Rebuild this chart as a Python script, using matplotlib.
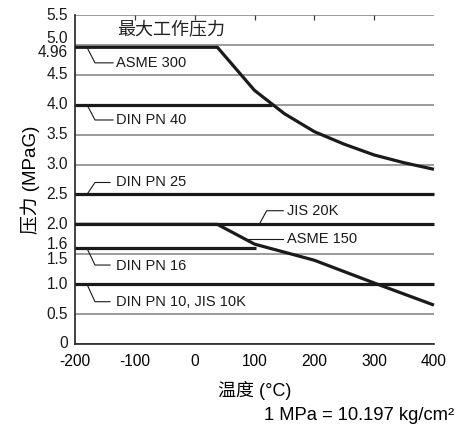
import matplotlib
matplotlib.use("Agg")
import matplotlib.pyplot as plt
from matplotlib.patches import Rectangle

plt.rcParams['font.family'] = ['Liberation Sans', 'Noto Sans CJK SC', 'DejaVu Sans']

# rating curves (temperature degC, pressure MPaG)
asme300_t = [-200, 38, 100, 150, 200, 250, 300, 350, 400]
asme300_p = [4.96, 4.96, 4.24, 3.85, 3.55, 3.34, 3.16, 3.03, 2.92]
asme150_t = [-200, 38, 100, 200, 300, 400]
asme150_p = [2.0, 2.0, 1.67, 1.40, 1.02, 0.65]
pn40_t = [-200, 129]
pn40_p = [4.0, 4.0]
pn25_t = [-200, 400]
pn25_p = [2.5, 2.5]
jis20k_t = [-200, 400]
jis20k_p = [2.0, 2.0]
pn16_t = [-200, 103]
pn16_p = [1.6, 1.6]
pn10_t = [-200, 400]
pn10_p = [1.0, 1.0]

xticks = [-200, -100, 0, 100, 200, 300, 400]
yticks = [0, 0.5, 1.0, 1.5, 2.0, 2.5, 3.0, 3.5, 4.0, 4.5, 5.0, 5.5]
# (value, text, vertical shift in px)
ylabels = [(0, "0", 0), (0.5, "0.5", 0), (1.0, "1.0", 0), (1.5, "1.5", -5),
           (1.6, "1.6", 3.5), (2.0, "2.0", 0), (2.5, "2.5", 0), (3.0, "3.0", 0),
           (3.5, "3.5", 0), (4.0, "4.0", 0), (4.5, "4.5", 0), (4.96, "4.96", -5.5),
           (5.0, "5.0", 6.5), (5.5, "5.5", 0)]

# label callouts: leader polyline (t, p) and text anchor
callouts = [
    ("ASME 300", [-180, -166.6, -136.5], [4.96, 4.70, 4.70], (-131.5, 4.70)),
    ("DIN PN 40", [-180, -166.6, -136.5], [4.0, 3.745, 3.745], (-131.5, 3.745)),
    ("DIN PN 25", [-180, -166.6, -141.5], [2.5, 2.70, 2.70], (-131.5, 2.70)),
    ("DIN PN 16", [-180, -166.6, -141.5], [1.6, 1.32, 1.32], (-131.5, 1.31)),
    ("DIN PN 10, JIS 10K", [-180, -166.6, -141.5], [1.0, 0.707, 0.707], (-131.5, 0.707)),
    ("JIS 20K", [107.9, 120.4, 148.1], [2.0, 2.228, 2.228], (154.8, 2.228)),
    ("ASME 150", [84.1, 148.1], [1.75, 1.75], (154.8, 1.75)),
]

fig = plt.figure(figsize=(4.67, 4.28), dpi=100)
ax = fig.add_axes([75 / 467, 1 - 344 / 428, 359 / 467, 329 / 428])
ax.set_xlim(-200, 400)
ax.set_ylim(0, 5.5)
ax.set_axisbelow(True)

ax.set_xticks(xticks)
ax.set_xticklabels([str(v) for v in xticks], fontsize=11.2)
ax.set_xticks(xticks[1:-1], minor=True)
ax.set_yticks(yticks)
ax.set_yticklabels([])
ax.tick_params(axis='both', which='both', length=0)
ax.tick_params(axis='x', pad=7.5)
ax.grid(axis='y', which='major', color='#8a8a8a', linewidth=1.2)
ax.grid(axis='x', which='minor', color='#3a3a3a', linewidth=0.9)

for side in ['top', 'right']:
    ax.spines[side].set_visible(False)
for side in ['left', 'bottom']:
    ax.spines[side].set_color('#222222')
    ax.spines[side].set_linewidth(1.2)

# white box behind title and short top ticks
ax.add_patch(Rectangle((-200, 5.02), 460, 0.46, facecolor='white', edgecolor='none', zorder=1))
ax.vlines(xticks[1:-1], 5.5 - 0.085, 5.5, color='#3a3a3a', linewidth=0.9, zorder=2)
ax.text(-38.7, 5.25, "最大工作压力", fontsize=13, ha='center', va='center', color='#222222', zorder=3)

lw = 2.3
for t, p in [(asme300_t, asme300_p), (asme150_t, asme150_p), (pn40_t, pn40_p),
             (pn25_t, pn25_p), (jis20k_t, jis20k_p), (pn16_t, pn16_p), (pn10_t, pn10_p)]:
    ax.plot(t, p, color='#1a1a1a', linewidth=lw, solid_capstyle='butt', zorder=4, clip_on=False)

for text, lt, lp, (tx, ty) in callouts:
    ax.plot(lt, lp, color='#1a1a1a', linewidth=0.8, zorder=5)
    ax.text(tx, ty, text, fontsize=10.5, ha='left', va='center', color='#1a1a1a', zorder=6)

ytr = ax.get_yaxis_transform()
for v, s, dy in ylabels:
    ax.annotate(s, xy=(0, v), xycoords=ytr, xytext=(-5, dy * 0.72), textcoords='offset points',
                ha='right', va='center', fontsize=11.2, color='#1a1a1a', annotation_clip=False)

ax.set_xlabel("温度 (°C)", fontsize=13, labelpad=8)
ax.set_ylabel("压力 (MPaG)", fontsize=13.5, labelpad=22)
fig.text(454 / 467, 1 - 416 / 428, "1 MPa = 10.197 kg/cm²", fontsize=13.2, ha='right', va='center')

fig.savefig("out.png", dpi=100)
